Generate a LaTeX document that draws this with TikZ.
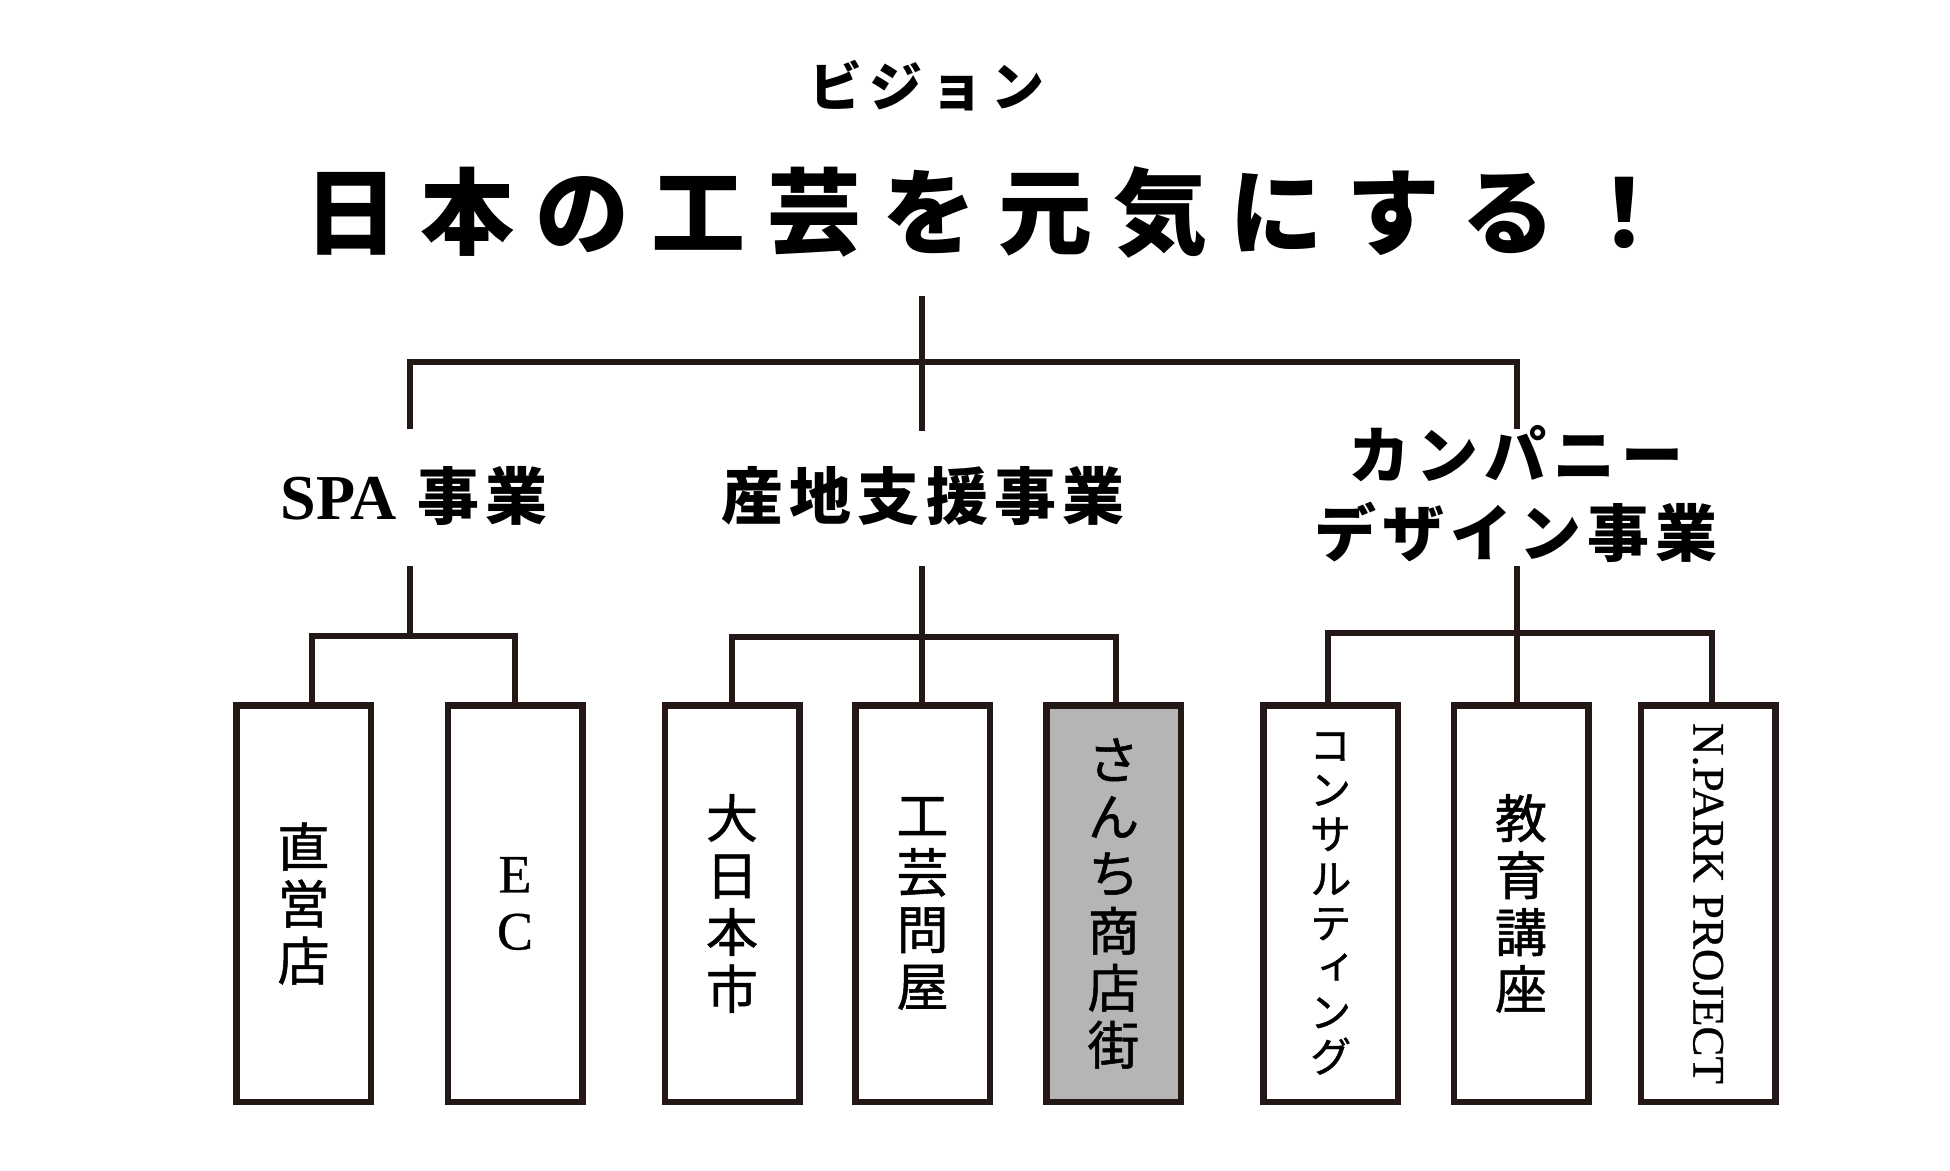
\documentclass[tikz,border=0pt]{standalone}
\usepackage{fontspec}
\setmainfont{Liberation Serif}
\newfontfamily\jp{Noto Sans CJK JP}
\newfontfamily\jpv[RawFeature=+vert, FakeBold=1]{Noto Sans CJK JP}
\newfontfamily\latbox[FakeBold=0.6]{Liberation Serif}
\newfontfamily\jptitle[LetterSpace=23]{Noto Sans CJK JP}
\newfontfamily\jpvis[LetterSpace=15]{Noto Sans CJK JP}
\newfontfamily\jplbl[LetterSpace=10]{Noto Sans CJK JP}
\definecolor{lc}{HTML}{231815}
\definecolor{gfill}{RGB}{181,181,182}
\tikzset{
  conn/.style={draw=lc, line width=6pt, line join=miter, line cap=butt},
  boxnode/.style={draw=lc, line width=6.5pt, fill=white, minimum width=134.5pt,
    minimum height=396.5pt, inner sep=0pt, outer sep=0pt, align=center,
    text=black, font=\jpv\fontsize{52}{57}\selectfont},
  graybox/.style={boxnode, fill=gfill},
  lbl/.style={inner sep=0pt, align=center, text=black,
    font=\jplbl\bfseries\fontsize{62}{78}\selectfont},
}
\begin{document}
\begin{tikzpicture}[x=1pt,y=-1pt]
\useasboundingbox (0,0) rectangle (1950,1170);
\fill[white] (0,0) rectangle (1950,1170);

% headline
\node[inner sep=0pt, text=black, font=\jpvis\bfseries\fontsize{53}{53}\selectfont]
  (vision) at (927,86) {ビジョン};
\node[inner sep=0pt, text=black, font=\jptitle\bfseries\fontsize{94}{94}\selectfont]
  (title) at (988,212) {日本の工芸を元気にする！};

% top tree
\coordinate (v0) at (922,296);
\coordinate (v1) at (922,431);
\coordinate (hbar) at (922,362);
\coordinate (hL) at (410,429);
\coordinate (hR) at (1517,429);
\draw[conn] (v0) -- (v1);
\draw[conn] (hL) |- (hbar) -| (hR);

% category labels
\node[lbl] (spa) at (414,496) {{\rmfamily\bfseries\fontsize{64}{64}\selectfont SPA} 事業};
\node[lbl] (sanchi) at (923,496) {産地支援事業};
\node[lbl] (company) at (1516,494) {カンパニー\\デザイン事業};

% boxes
\node[boxnode] (b1) at (303.5,903.5) {直\\営\\店};
\node[boxnode, font=\latbox\fontsize{54}{57}\selectfont] (b2) at (515,903.5) {E\\C};
\node[boxnode] (b3) at (732,903.5) {大\\日\\本\\市};
\node[boxnode] (b4) at (922.5,903.5) {工\\芸\\問\\屋};
\node[graybox] (b5) at (1113.5,903.5) {さ\\ん\\ち\\商\\店\\街};
\node[boxnode, font=\jpv\fontsize{42}{44.5}\selectfont] (b6) at (1330.5,903.5)
  {コ\\ン\\サ\\ル\\テ\\ィ\\ン\\グ};
\node[boxnode] (b7) at (1521,903.5) {教\\育\\講\\座};
\node[boxnode] (b8) at (1708,903.5) {};
\node[rotate=-90, inner sep=0pt, text=black, font=\latbox\fontsize{45}{45}\selectfont]
  (t8) at (b8.center) {N.PARK PROJECT};

% SPA group
\coordinate (s0) at (410,566);
\coordinate (s1) at (410,636);
\coordinate (sL) at (312,636);
\coordinate (sR) at (515,636);
\draw[conn] (s0) -- (s1);
\draw[conn] (sL |- b1.north) |- (s1) -| (sR |- b2.north);

% sanchi group
\coordinate (m0) at (922,566);
\coordinate (m1) at (922,637);
\coordinate (mL) at (732,637);
\coordinate (mR) at (1116,637);
\draw[conn] (m0) -- (m0 |- b4.north);
\draw[conn] (mL |- b3.north) |- (m1) -| (mR |- b5.north);

% company group
\coordinate (r0) at (1517,566);
\coordinate (r1) at (1517,633);
\coordinate (rL) at (1328,633);
\coordinate (rR) at (1712,633);
\draw[conn] (r0) -- (r0 |- b7.north);
\draw[conn] (rL |- b6.north) |- (r1) -| (rR |- b8.north);
\end{tikzpicture}
\end{document}
